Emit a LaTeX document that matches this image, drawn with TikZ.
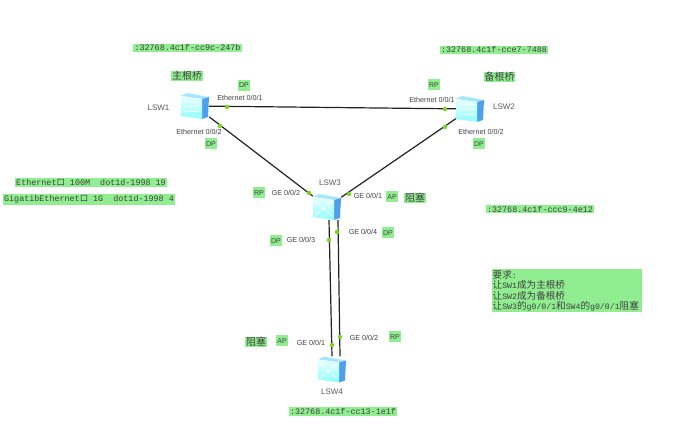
\documentclass[tikz,border=0pt]{standalone}
\usepackage{fontspec}
\setmainfont{Liberation Sans}
\setmonofont{Liberation Mono}
\newfontfamily\cjk{Noto Sans CJK SC}
\usetikzlibrary{arrows.meta}
\definecolor{notegreen}{HTML}{90EE90}
\definecolor{portgreen}{HTML}{7ED321}
\definecolor{linkgray}{HTML}{222222}
\definecolor{devtop}{HTML}{A4E8FF}
\definecolor{devside}{HTML}{4F9FEF}
\newcommand{\devbody}{
    \fill[devtop] (-14,-10) -- (-8,-13) -- (14,-9) -- (7,-7) -- cycle;
    \fill[devside] (7,-7) -- (14,-9) -- (13,11) -- (7,13) -- cycle;
    \shade[top color=cyan!8,bottom color=cyan!45] (-14,-10) -- (7,-7) -- (7,13) -- (-14,10) -- cycle;
}
\newcommand{\ltwoswitch}[1]{
  \begin{scope}[shift={(#1.center)}]
    \devbody
    \foreach \y/\s in {-5/1,0/-1,5/1}
      \draw[white,line width=.8pt,-{Stealth[length=2.5pt]}] (-3.5-8*\s,\y) -- (-3.5+8*\s,\y+.8);
  \end{scope}
}
\newcommand{\lthreeswitch}[1]{
  \begin{scope}[shift={(#1.center)}]
    \devbody
    \fill[white] (-3.5,1.5) circle (2);
    \foreach \dx/\dy in {-1/-1,1/-1,-1/1,1/1}
      \draw[white,line width=.8pt,{Stealth[length=2.5pt]}-] (-3.5+3.5*\dx,1.5+3*\dy) -- (-3.5+8*\dx,1.5+7.5*\dy);
  \end{scope}
}
\newcommand{\cn}[1]{{\cjk\fontsize{9.6}{10.4}\selectfont #1}}
\tikzset{
  greentag/.style={fill=notegreen,inner sep=1.5pt,text=black!75},
  idtag/.style={greentag,font=\ttfamily\fontsize{8.4}{9}\selectfont,inner sep=1.2pt},
  roletag/.style={greentag,font=\fontsize{7}{8}\selectfont,minimum height=11pt,inner sep=1pt},
  cjktag/.style={greentag,font=\cjk\fontsize{10}{11}\selectfont,inner sep=.6pt},
  portlabel/.style={inner sep=0pt,text=black!75,font=\fontsize{7.2}{8}\selectfont},
  devlabel/.style={inner sep=0pt,text=black!65,font=\fontsize{8}{9}\selectfont},
  devbox/.style={minimum width=28pt,minimum height=26pt,inner sep=0pt},
  link/.style={draw=linkgray,line width=1.2pt},
  portdot/.style={circle,fill=portgreen,inner sep=0pt,minimum size=4.5pt}
}
\begin{document}
\begin{tikzpicture}[x=1pt,y=-1pt]
\useasboundingbox (0,0) rectangle (691,430);
% devices
\node[devbox] (LSW1) at (195,106) {};
\node[devbox] (LSW2) at (470,109) {};
\node[devbox] (LSW3) at (327,207) {};
\node[devbox] (LSW4) at (332,369.5) {};

\draw[link] (LSW1) -- (LSW2);
\draw[link] (LSW1) -- (LSW3);
\draw[link] (LSW2) -- (LSW3);
\draw[link] ([xshift=2pt]LSW3.south) -- ([xshift=0pt]LSW4.north);
\draw[link] ([xshift=11pt]LSW3.south) -- ([xshift=8pt]LSW4.north);

\ltwoswitch{LSW1}
\ltwoswitch{LSW2}
\lthreeswitch{LSW3}
\lthreeswitch{LSW4}

\node[devlabel] (nameA) at (158.5,108) {LSW1};
\node[devlabel] (nameB) at (504,107) {LSW2};
\node[devlabel] (nameC) at (330,183) {LSW3};
\node[devlabel] (nameD) at (332,392) {LSW4};

% port dots
\foreach \x/\y/\n in {227/107/a,220/126/b,445/109/c,445/127/d,309/193/e,349/194/f,329/240/g,337/232/h,332/345/i,340/337/j}
  \node[portdot] (dot\n) at (\x,\y) {};

% port names
\node[portlabel] (portA) at (240,98) {Ethernet 0/0/1};
\node[portlabel] (portB) at (199,132) {Ethernet 0/0/2};
\node[portlabel] (portC) at (432,100) {Ethernet 0/0/1};
\node[portlabel] (portD) at (481,132) {Ethernet 0/0/2};
\node[portlabel] (portE) at (286,193) {GE 0/0/2};
\node[portlabel] (portF) at (368,196) {GE 0/0/1};
\node[portlabel] (portG) at (301,240) {GE 0/0/3};
\node[portlabel] (portH) at (363,232) {GE 0/0/4};
\node[portlabel] (portI) at (311,343) {GE 0/0/1};
\node[portlabel] (portJ) at (364,338) {GE 0/0/2};

% port roles
\node[roletag] (roleA) at (244,85.5) {DP};
\node[roletag] (roleB) at (211,144) {DP};
\node[roletag] (roleC) at (434,85) {RP};
\node[roletag] (roleD) at (479,144) {DP};
\node[roletag] (roleE) at (259,193) {RP};
\node[roletag] (roleF) at (392,197) {AP};
\node[roletag] (roleG) at (276,241) {DP};
\node[roletag] (roleH) at (388,233) {DP};
\node[roletag] (roleI) at (282,341) {AP};
\node[roletag] (roleJ) at (395,337) {RP};

\node[cjktag] (mainroot) at (187,76) {主根桥};
\node[cjktag] (backroot) at (499.5,77) {备根桥};
\node[cjktag] (blockA) at (415,198) {阻塞};
\node[cjktag] (blockB) at (256,342) {阻塞};

% bridge ids
\node[idtag] (idA) at (187.5,48) {:32768.4c1f-cc9c-247b};
\node[idtag] (idB) at (494,50) {:32768.4c1f-cce7-7488};
\node[idtag] (idC) at (540,209) {:32768.4c1f-ccc9-4e12};
\node[idtag] (idD) at (343,411.5) {:32768.4c1f-cc13-1e1f};

% costs
\node[idtag] (costA) at (91,182.5) {Ethernet{\cjk 口} 100M\ \ dot1d-1998 19};
\node[idtag] (costB) at (89,199.5) {GigatibEthernet{\cjk 口} 1G\ \ dot1d-1998 4};

\node[greentag,align=left,inner sep=1pt,anchor=north west,text width=148.5pt,minimum height=42pt,
  font=\ttfamily\fontsize{8.2}{10.4}\selectfont] (note) at (491.5,269)
  {\cn{要求}:\\\cn{让}SW1\cn{成为主根桥}\\\cn{让}SW2\cn{成为备根桥}\\\cn{让}SW3\cn{的}g0/0/1\cn{和}SW4\cn{的}g0/0/1\cn{阻塞}};
\end{tikzpicture}
\end{document}
